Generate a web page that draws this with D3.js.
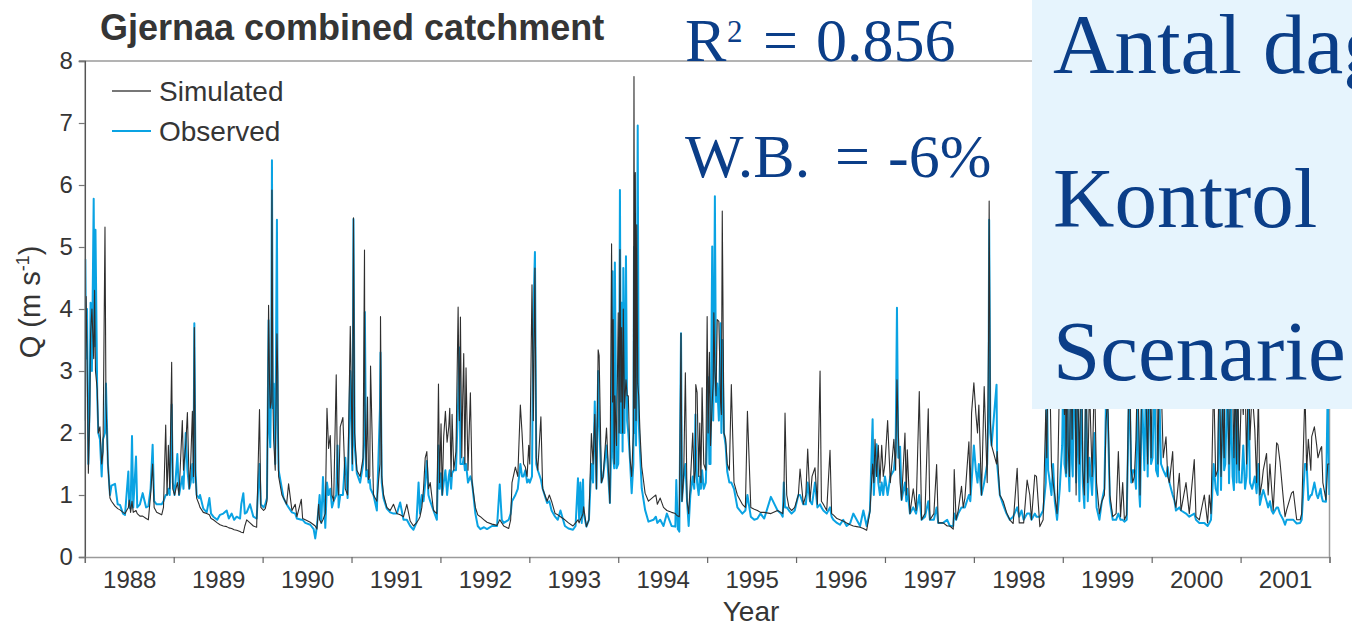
<!DOCTYPE html>
<html>
<head>
<meta charset="utf-8">
<script src="https://cdn.jsdelivr.net/npm/d3@7"></script>
<style>
  html, body { margin: 0; padding: 0; background: #ffffff; }
  svg { display: block; }
</style>
</head>
<body>
<svg id="chart" width="1352" height="628"></svg>
<script>
// Daily discharge, Gjernaa combined catchment, 1988-2001.
// Each year: position within the year (fraction), observed Q, simulated Q.
const t1988 = [0.000,0.006,0.015,0.025,0.040,0.055,0.065,0.080,0.100,0.110,0.120,0.140,0.152,0.170,0.190,0.205,0.227,0.238,0.260,0.283,0.300,0.340,0.370,0.396,0.430,0.452,0.490,0.500,0.515,0.531,0.545,0.576,0.590,0.620,0.651,0.690,0.715,0.740,0.763,0.780,0.808,0.865,0.885,0.910,0.925,0.940,0.955,0.977,0.990];
const obs1988 = [1.9,4.8,3.2,4.0,1.5,2.5,4.1,3.0,5.78,3.4,5.28,2.6,2.0,1.9,1.3,1.9,2.0,2.8,1.5,1.0,1.15,1.18,0.85,0.84,0.7,0.68,1.38,0.8,0.78,1.95,0.8,1.62,0.8,0.85,1.03,0.8,0.82,1.1,1.81,0.9,0.85,0.85,0.9,1.0,1.0,1.1,1.0,2.46,1.2];
const sim1988 = [2.2,3.0,4.2,3.3,1.35,2.3,3.6,4.0,3.2,4.3,3.0,2.7,2.0,2.1,1.5,1.7,5.32,2.5,1.5,0.95,0.9,0.82,0.78,0.76,0.72,0.7,0.8,0.92,0.72,0.9,0.72,0.75,0.7,0.66,0.66,0.62,0.6,1.0,1.5,0.8,0.72,0.68,0.8,2.13,1.0,1.8,1.1,3.14,1.1];

const t1989 = [0.010,0.041,0.060,0.097,0.110,0.135,0.154,0.175,0.191,0.210,0.222,0.232,0.245,0.258,0.285,0.296,0.333,0.371,0.401,0.420,0.446,0.490,0.521,0.558,0.596,0.620,0.652,0.680,0.708,0.746,0.760,0.783,0.800,0.821,0.858,0.896,0.933,0.965,0.980];
const obs1989 = [1.0,1.66,1.0,1.3,1.1,2.0,1.4,1.1,1.2,1.5,1.2,3.77,1.4,1.0,0.95,1.0,0.78,0.72,0.95,0.7,0.65,0.6,0.68,0.7,0.75,0.62,0.7,0.6,0.65,0.62,0.85,1.03,0.7,0.72,0.85,0.65,0.62,1.5,0.85];
const sim1989 = [1.0,1.2,1.0,2.2,1.4,1.8,2.33,1.1,1.5,2.35,1.3,3.7,1.3,0.95,0.85,0.8,0.72,0.7,0.68,0.62,0.6,0.55,0.52,0.5,0.49,0.47,0.46,0.44,0.43,0.41,0.4,0.39,0.5,0.6,0.55,0.5,0.48,2.38,0.8];

const t1990 = [0.011,0.030,0.049,0.067,0.078,0.086,0.097,0.105,0.115,0.124,0.142,0.161,0.170,0.180,0.217,0.236,0.270,0.292,0.330,0.367,0.386,0.435,0.450,0.480,0.536,0.574,0.592,0.611,0.630,0.641,0.660,0.679,0.705,0.724,0.742,0.761,0.780,0.799,0.828,0.843,0.855,0.873,0.903,0.930,0.956,0.986];
const obs1990 = [0.8,0.85,0.95,3.82,2.0,1.77,2.9,6.4,2.4,2.8,1.5,5.44,2.2,1.4,1.1,0.95,0.85,0.8,0.72,0.7,0.62,0.6,0.6,0.55,0.52,0.45,0.3,0.5,0.8,1.0,0.55,1.29,0.47,1.2,1.0,1.1,0.8,0.9,1.0,1.8,0.8,1.0,1.0,1.6,0.95,3.0];
const sim1990 = [0.75,0.78,0.9,4.06,2.8,2.4,2.5,5.92,2.6,1.9,1.4,3.6,2.98,1.3,1.0,0.95,0.85,1.18,0.75,0.85,0.65,0.93,0.62,0.6,0.56,0.52,0.5,0.45,0.85,0.6,0.55,0.6,0.7,2.4,1.75,1.96,1.0,0.9,2.94,1.2,1.0,2.1,2.25,1.1,1.0,3.72];

const t1991 = [0.010,0.022,0.035,0.060,0.097,0.130,0.146,0.150,0.165,0.180,0.191,0.205,0.214,0.247,0.285,0.320,0.326,0.340,0.360,0.397,0.435,0.472,0.510,0.547,0.585,0.622,0.660,0.697,0.730,0.754,0.770,0.791,0.810,0.829,0.847,0.865,0.885,0.922,0.960,0.978,0.990];
const obs1991 = [1.4,5.45,1.8,1.35,1.2,1.5,2.0,3.95,1.3,1.4,1.2,1.25,1.1,1.0,0.75,2.4,3.3,1.2,0.95,0.78,0.72,0.7,0.7,0.88,0.6,0.6,0.5,0.44,0.55,1.2,0.7,1.0,0.9,1.2,1.55,1.0,0.9,0.75,0.6,1.8,1.1];
const sim1991 = [1.5,5.47,2.0,1.4,1.3,1.6,4.95,2.5,1.4,2.58,1.25,1.3,3.08,1.0,0.9,1.5,3.88,1.3,1.0,0.8,0.75,0.85,0.7,0.68,0.65,0.85,0.58,0.5,0.55,0.6,0.65,0.8,1.1,1.6,1.7,1.1,1.2,0.75,0.7,2.79,1.2];

const t1992 = [0.007,0.020,0.037,0.056,0.075,0.094,0.105,0.120,0.131,0.150,0.175,0.199,0.213,0.225,0.240,0.251,0.262,0.275,0.288,0.310,0.337,0.356,0.393,0.420,0.449,0.490,0.524,0.580,0.637,0.667,0.690,0.712,0.768,0.790,0.805,0.843,0.870,0.899,0.918,0.935,0.955,0.975,0.993];
const obs1992 = [1.35,1.0,1.2,1.4,1.0,1.3,1.4,1.1,1.35,1.4,1.4,2.5,3.38,1.5,1.5,1.5,1.6,1.4,1.5,1.2,1.3,1.2,0.7,0.5,0.45,0.48,0.45,0.5,0.5,1.17,0.6,0.55,0.6,0.7,0.9,1.0,1.1,1.5,1.3,1.3,1.4,1.2,1.25];
const sim1992 = [2.15,1.0,1.95,2.35,1.85,2.1,2.4,1.3,2.3,1.4,1.7,4.03,2.2,3.87,1.6,2.6,3.28,1.5,3.05,1.4,2.65,1.2,0.8,0.68,0.65,0.6,0.56,0.53,0.51,0.6,0.55,0.5,0.46,0.6,1.2,1.45,1.3,2.45,2.0,1.5,1.45,1.3,1.8];

const t1993 = [0.005,0.030,0.045,0.063,0.078,0.095,0.130,0.150,0.200,0.225,0.250,0.290,0.320,0.350,0.400,0.440,0.491,0.520,0.547,0.560,0.574,0.590,0.604,0.611,0.642,0.670,0.698,0.717,0.736,0.755,0.774,0.785,0.811,0.830,0.868,0.906,0.925,0.936,0.943,0.955,0.962,0.981];
const obs1993 = [1.2,1.3,3.9,4.92,1.5,1.4,1.25,1.1,0.87,0.9,0.75,0.65,0.6,0.75,0.5,0.46,0.44,0.5,1.27,0.6,1.2,0.55,1.25,0.7,0.49,0.6,1.5,1.2,2.51,1.1,3.0,2.2,1.2,1.3,1.8,0.87,2.0,4.61,1.6,1.43,4.75,1.43];
const sim1993 = [1.5,4.39,2.2,4.66,1.6,1.4,2.26,1.1,0.9,1.0,0.9,0.7,0.68,0.65,0.6,0.55,0.5,0.55,0.6,0.55,0.6,0.65,0.7,0.81,0.49,0.6,1.99,1.5,2.3,1.1,3.34,3.25,1.2,1.3,2.08,0.87,5.05,2.5,3.83,1.5,2.6,1.8];

const t1994 = [0.000,0.010,0.019,0.030,0.038,0.049,0.057,0.070,0.087,0.100,0.113,0.132,0.151,0.170,0.177,0.185,0.192,0.200,0.208,0.219,0.230,0.245,0.264,0.302,0.340,0.396,0.423,0.440,0.472,0.509,0.547,0.600,0.642,0.653,0.670,0.687,0.706,0.717,0.736,0.755,0.774,0.792,0.811,0.838,0.855,0.868,0.872,0.887,0.905,0.917,0.930,0.943,0.962,0.985];
const obs1994 = [1.5,2.5,5.92,2.0,4.1,1.7,4.66,2.0,4.85,2.2,2.0,1.57,1.03,1.5,5.0,2.0,2.5,1.8,3.0,6.96,2.2,1.7,1.11,0.76,0.57,0.6,0.65,0.55,0.6,0.5,0.7,0.5,0.49,1.24,0.45,0.41,3.61,0.9,1.3,1.5,0.9,0.5,1.0,1.3,1.1,2.3,1.8,1.2,1.0,1.3,1.1,1.4,1.1,1.2];
const sim1994 = [3.94,2.0,4.96,2.5,3.7,2.0,4.0,2.4,2.86,2.6,2.6,1.6,1.3,2.0,7.75,2.4,6.2,2.2,5.36,2.8,2.6,2.0,1.46,1.03,0.9,0.97,1.0,0.85,0.95,0.8,0.75,0.72,0.7,0.68,0.66,0.65,3.61,0.9,1.3,2.97,0.9,0.7,1.2,2.0,1.2,1.4,2.78,2.65,1.3,2.16,1.2,2.73,1.5,1.4];

const t1995 = [0.000,0.011,0.025,0.038,0.057,0.068,0.075,0.087,0.100,0.113,0.132,0.151,0.160,0.170,0.189,0.208,0.226,0.250,0.272,0.302,0.340,0.396,0.430,0.453,0.491,0.530,0.566,0.600,0.642,0.717,0.792,0.830,0.850,0.862,0.876,0.895,0.920,0.950,0.985];
const obs1995 = [2.0,2.9,1.5,1.5,5.01,2.2,3.0,5.82,2.5,2.8,2.2,3.77,2.0,3.5,2.0,1.8,1.38,1.2,1.2,1.1,0.8,0.7,0.75,1.0,0.65,0.6,0.62,0.7,0.62,0.97,0.75,0.7,0.65,1.2,0.8,0.8,0.75,0.7,0.75];
const sim1995 = [3.88,2.0,3.3,1.8,2.5,2.8,3.94,3.0,2.6,3.83,3.8,2.5,2.3,5.58,2.0,1.9,1.5,1.4,2.78,1.2,1.0,0.85,0.8,2.35,0.8,0.77,0.75,0.72,0.72,0.7,0.75,0.72,0.7,0.9,2.32,1.0,0.8,0.75,0.8];

const t1996 = [0.026,0.045,0.082,0.110,0.131,0.157,0.180,0.213,0.240,0.270,0.285,0.307,0.345,0.382,0.400,0.419,0.460,0.494,0.530,0.569,0.610,0.644,0.682,0.720,0.757,0.794,0.831,0.861,0.875,0.888,0.906,0.925,0.944,0.963,0.981];
const obs1996 = [1.0,1.0,0.85,0.85,1.2,0.9,0.85,1.2,0.8,0.85,0.8,0.75,0.7,0.8,0.65,0.6,0.55,0.52,0.6,0.5,0.55,0.7,0.6,0.5,0.75,0.5,0.75,2.22,1.0,1.4,1.82,1.2,1.0,1.2,1.0];
const sim1996 = [1.0,1.42,0.85,1.0,1.74,0.9,1.3,1.44,0.85,3.0,0.9,0.85,0.75,1.72,0.7,0.68,0.62,0.6,0.58,0.55,0.52,0.5,0.49,0.48,0.46,0.43,0.73,1.5,1.2,1.9,1.3,1.8,1.2,1.8,1.3];

const t1997 = [0.000,0.030,0.060,0.100,0.120,0.135,0.150,0.170,0.187,0.225,0.240,0.251,0.281,0.318,0.350,0.386,0.412,0.450,0.487,0.506,0.550,0.581,0.599,0.655,0.700,0.730,0.768,0.779,0.800,0.824,0.861,0.880,0.899,0.944,0.960,0.974];
const obs1997 = [1.3,1.0,1.3,1.4,1.7,4.02,1.6,1.78,0.92,1.2,0.9,1.1,0.7,0.8,0.7,1.0,0.6,0.65,0.9,0.6,0.6,0.8,0.55,0.55,0.6,0.5,0.5,0.7,0.6,0.7,0.8,0.8,0.8,1.0,0.9,1.2];
const sim1997 = [1.5,2.2,1.2,1.9,1.4,2.86,2.0,1.2,0.92,2.0,1.0,1.73,0.7,1.1,0.75,2.67,0.6,0.7,2.39,0.6,0.7,1.49,0.55,0.55,0.5,0.5,0.45,1.41,0.6,0.75,1.14,0.8,0.95,1.86,1.0,2.32];

const t1998 = [0.000,0.022,0.041,0.056,0.086,0.116,0.150,0.165,0.172,0.185,0.199,0.255,0.262,0.292,0.330,0.367,0.404,0.442,0.487,0.510,0.536,0.560,0.599,0.629,0.648,0.685,0.704,0.742,0.779,0.809,0.820,0.835,0.846,0.873,0.891,0.910,0.936,0.966,0.993];
const obs1998 = [1.8,1.4,1.2,1.5,1.0,1.2,1.5,2.5,5.44,2.0,1.8,2.78,1.5,1.0,0.84,0.7,0.6,0.65,0.8,0.65,0.75,0.6,0.7,0.7,0.6,0.7,0.65,0.65,0.75,1.2,2.9,1.4,1.3,1.0,1.5,0.9,0.6,1.1,1.8];
const sim1998 = [2.81,2.32,2.0,2.45,1.0,2.75,1.2,3.5,5.74,2.2,1.8,1.5,1.7,1.0,0.9,0.72,0.6,0.54,1.43,0.55,0.55,0.55,1.24,1.0,0.6,1.32,1.3,0.49,0.6,2.37,1.6,3.2,3.6,1.46,1.2,1.0,0.7,3.1,2.8];

const t1999 = [0.010,0.019,0.030,0.037,0.050,0.060,0.075,0.090,0.105,0.112,0.130,0.150,0.165,0.187,0.210,0.225,0.243,0.260,0.281,0.300,0.330,0.356,0.380,0.412,0.440,0.468,0.487,0.506,0.530,0.562,0.600,0.625,0.650,0.674,0.693,0.719,0.749,0.770,0.787,0.805,0.824,0.840,0.861,0.869,0.890,0.918,0.936,0.955,0.974,0.993];
const obs1999 = [3.4,1.5,1.4,1.3,3.3,1.6,1.06,2.8,1.5,1.3,3.8,1.2,2.6,0.9,3.0,1.2,0.79,2.7,0.9,1.6,1.0,2.0,0.8,0.6,0.9,1.1,2.6,2.29,0.9,0.6,0.6,0.7,0.6,0.6,0.57,0.6,3.0,1.2,1.4,1.4,1.1,2.8,1.0,0.81,2.7,1.4,2.9,1.3,3.2,1.5];
const sim1999 = [2.6,2.3,3.0,1.35,3.8,1.8,1.3,3.5,1.9,2.9,4.2,1.0,3.1,1.5,3.6,1.4,1.0,3.2,1.2,2.8,1.3,3.0,1.2,0.7,0.9,1.0,2.19,2.6,1.0,0.65,0.7,1.7,0.65,1.2,0.6,0.68,3.4,1.4,1.2,1.3,1.9,3.2,1.78,1.0,3.0,3.5,2.6,1.5,3.8,1.6];

const t2000 = [0.010,0.030,0.049,0.070,0.085,0.105,0.130,0.161,0.180,0.199,0.236,0.255,0.273,0.311,0.330,0.386,0.423,0.479,0.498,0.536,0.592,0.629,0.648,0.667,0.697,0.720,0.742,0.760,0.780,0.798,0.815,0.828,0.854,0.870,0.891,0.910,0.925,0.940,0.955,0.966,0.985];
const obs2000 = [1.6,3.0,1.4,1.3,2.7,1.5,1.4,1.3,1.45,1.2,1.0,0.92,0.75,0.8,0.75,0.7,0.65,0.7,0.6,0.55,0.55,0.5,0.55,0.6,1.5,1.1,1.0,2.6,1.08,2.8,1.4,1.5,3.0,1.19,2.6,1.3,1.08,3.1,1.2,2.4,1.2];
const sim2000 = [3.2,2.6,3.6,1.5,3.0,2.9,1.6,1.94,1.3,1.2,1.7,0.92,0.8,1.35,0.75,1.2,0.7,1.57,0.65,0.6,1.0,0.55,1.0,0.7,2.9,1.3,1.4,3.3,1.3,2.5,1.6,3.6,2.6,1.5,3.4,2.8,1.6,2.9,1.5,3.0,1.4];

const t2001 = [0.011,0.030,0.050,0.067,0.090,0.105,0.130,0.160,0.180,0.200,0.217,0.240,0.255,0.292,0.310,0.330,0.349,0.367,0.405,0.420,0.443,0.480,0.500,0.518,0.573,0.593,0.631,0.670,0.687,0.724,0.743,0.762,0.790,0.800,0.830,0.856,0.870,0.900,0.912,0.925,0.960,0.980,0.999];
const obs2001 = [1.2,1.8,1.1,1.3,2.6,1.2,1.1,1.3,1.03,1.5,0.84,1.0,1.08,0.9,0.8,0.9,0.75,0.7,0.8,0.8,0.7,0.6,0.52,0.6,0.6,0.6,0.54,0.55,0.6,1.5,1.5,0.92,1.0,1.0,1.2,1.0,0.95,1.1,0.97,0.9,0.89,2.7,1.0];
const sim2001 = [2.8,2.3,3.0,1.5,3.2,1.89,2.7,2.05,1.2,2.6,1.0,1.2,1.4,1.67,1.0,1.5,1.1,0.75,1.84,1.81,1.54,0.95,0.65,0.76,1.03,1.06,0.6,0.6,0.7,2.7,1.4,1.9,1.4,1.94,2.1,1.8,1.6,1.75,1.78,1.2,0.92,1.5,1.5];

// Axis ticks and labels
const yearLabels = ["1988","1989","1990","1991","1992","1993","1994","1995","1996","1997","1998","1999","2000","2001"];
const yearEdges = [1988,1989,1990,1991,1992,1993,1994,1995,1996,1997,1998,1999,2000,2001,2002];
const qTicks = [0,1,2,3,4,5,6,7,8];

// Fit statistics and side-panel headings
const r2Parts = ["R", "2", "=", "0.856"];
const wbParts = ["W.B.", "=", "-6%"];
const panelLines = ["Antal dag", "Kontrol", "Scenarie"];

const yearBlocks = [
  [1988, t1988, obs1988, sim1988], [1989, t1989, obs1989, sim1989],
  [1990, t1990, obs1990, sim1990], [1991, t1991, obs1991, sim1991],
  [1992, t1992, obs1992, sim1992], [1993, t1993, obs1993, sim1993],
  [1994, t1994, obs1994, sim1994], [1995, t1995, obs1995, sim1995],
  [1996, t1996, obs1996, sim1996], [1997, t1997, obs1997, sim1997],
  [1998, t1998, obs1998, sim1998], [1999, t1999, obs1999, sim1999],
  [2000, t2000, obs2000, sim2000], [2001, t2001, obs2001, sim2001]
];

const observedSeries = [];
const simulatedSeries = [];
yearBlocks.forEach(([yr, ts, obs, sim]) => {
  if (ts.length !== obs.length || ts.length !== sim.length) {
    console.warn("length mismatch in", yr, ts.length, obs.length, sim.length);
  }
  ts.forEach((f, i) => {
    observedSeries.push({ t: yr + f, q: obs[i] });
    simulatedSeries.push({ t: yr + f, q: sim[i] });
  });
});

const W = 1352, H = 628;
const plot = { left: 84.8, right: 1329.5, top: 61, bottom: 557 };
const sans = "'Liberation Sans', Arial, Helvetica, sans-serif";
const serif = "'Liberation Serif', 'Times New Roman', serif";
const textGrey = "#353535";
const frameGrey = "#9a9a9a";
const obsBlue = "#0aa3e3";
const simDark = "#2e2e2e";
const noteBlue = "#0b3e88";

const svg = d3.select("#chart");

const x = d3.scaleLinear().domain([1988, 2002]).range([plot.left, plot.right]);
const y = d3.scaleLinear().domain([0, 8]).range([plot.bottom, plot.top]);

// Plot frame: top and right edges
svg.append("line")
  .attr("x1", plot.left - 6).attr("x2", plot.right)
  .attr("y1", plot.top).attr("y2", plot.top)
  .attr("stroke", frameGrey).attr("stroke-width", 1.5);
svg.append("line")
  .attr("x1", plot.right).attr("x2", plot.right)
  .attr("y1", plot.top).attr("y2", plot.bottom)
  .attr("stroke", frameGrey).attr("stroke-width", 1.5);

// Clip for the hydrographs
svg.append("clipPath").attr("id", "plotClip")
  .append("rect")
  .attr("x", plot.left).attr("y", plot.top)
  .attr("width", plot.right - plot.left).attr("height", plot.bottom - plot.top);

const line = d3.line().x(d => x(d.t)).y(d => y(d.q));

const series = svg.append("g").attr("clip-path", "url(#plotClip)");
series.append("path")
  .datum(observedSeries)
  .attr("d", line)
  .attr("fill", "none")
  .attr("stroke", obsBlue)
  .attr("stroke-width", 2)
  .attr("stroke-linejoin", "round");
series.append("path")
  .datum(simulatedSeries)
  .attr("d", line)
  .attr("fill", "none")
  .attr("stroke", simDark)
  .attr("stroke-width", 1.1)
  .attr("stroke-linejoin", "round");

// Y axis
const yAxis = svg.append("g")
  .attr("transform", `translate(${plot.left},0)`)
  .call(d3.axisLeft(y).tickValues(qTicks).tickSize(6).tickPadding(6).tickFormat(d3.format("d")));
yAxis.select(".domain").attr("stroke", "#555").attr("stroke-width", 1.5);
yAxis.selectAll(".tick line").attr("stroke", "#777").attr("stroke-width", 1.2);
yAxis.selectAll(".tick text")
  .attr("fill", textGrey).style("font-family", sans).style("font-size", "24px");

// X axis: year boundaries
const xAxis = svg.append("g")
  .attr("transform", `translate(0,${plot.bottom})`)
  .call(d3.axisBottom(x).tickValues(yearEdges).tickSize(6).tickFormat(""));
xAxis.select(".domain").attr("stroke", frameGrey).attr("stroke-width", 1.5);
xAxis.selectAll(".tick line").attr("stroke", "#666").attr("stroke-width", 1.2);

// X axis: year labels centred within each year
const xLabels = svg.append("g")
  .attr("transform", `translate(0,${plot.bottom})`)
  .call(d3.axisBottom(x)
    .tickValues(yearLabels.map(s => +s + 0.5))
    .tickSize(0).tickPadding(14)
    .tickFormat((d, i) => yearLabels[i]));
xLabels.select(".domain").remove();
xLabels.selectAll(".tick text")
  .attr("fill", textGrey).style("font-family", sans).style("font-size", "24px");

// Axis titles
svg.append("text")
  .attr("x", 751).attr("y", 621)
  .attr("text-anchor", "middle")
  .attr("fill", textGrey)
  .style("font-family", sans).style("font-size", "28px")
  .text("Year");

const yTitle = svg.append("text")
  .attr("transform", "translate(40,302) rotate(-90)")
  .attr("text-anchor", "middle")
  .attr("fill", textGrey)
  .style("font-family", sans).style("font-size", "29px");
yTitle.append("tspan").text("Q (m s");
yTitle.append("tspan").attr("dy", -11).style("font-size", "18px").text("-1");
yTitle.append("tspan").attr("dy", 11).text(")");

// Chart title
svg.append("text")
  .attr("x", 100).attr("y", 40)
  .attr("fill", textGrey)
  .style("font-family", sans).style("font-size", "36px").style("font-weight", "bold")
  .text("Gjernaa combined catchment");

// Legend
const legendItems = [
  { label: "Simulated", color: "#4a4a4a", width: 1.5, y: 91 },
  { label: "Observed", color: obsBlue, width: 2.2, y: 131 }
];
const legend = svg.append("g");
legendItems.forEach(it => {
  legend.append("line")
    .attr("x1", 112).attr("x2", 151)
    .attr("y1", it.y).attr("y2", it.y)
    .attr("stroke", it.color).attr("stroke-width", it.width);
  legend.append("text")
    .attr("x", 159).attr("y", it.y + 10)
    .attr("fill", textGrey)
    .style("font-family", sans).style("font-size", "28px")
    .text(it.label);
});

// Fit statistics
const r2 = svg.append("text")
  .attr("y", 61)
  .attr("fill", noteBlue)
  .style("font-family", serif).style("font-size", "62px");
r2.append("tspan").attr("x", 685).text(r2Parts[0]);
r2.append("tspan").attr("x", 727).attr("dy", -19).style("font-size", "31px").text(r2Parts[1]);
r2.append("tspan").attr("x", 763).attr("dy", 19).text(r2Parts[2]);
r2.append("tspan").attr("x", 816).text(r2Parts[3]);

const wb = svg.append("text")
  .attr("y", 177)
  .attr("fill", noteBlue)
  .style("font-family", serif).style("font-size", "62px");
wb.append("tspan").attr("x", 685).text(wbParts[0]);
wb.append("tspan").attr("x", 835).text(wbParts[1]);
wb.append("tspan").attr("x", 888).text(wbParts[2]);

// Side panel
svg.append("rect")
  .attr("x", 1032).attr("y", 0)
  .attr("width", W - 1032).attr("height", 409)
  .attr("fill", "#e6f4fd");
const panelBaselines = [73, 227, 380];
panelLines.forEach((s, i) => {
  svg.append("text")
    .attr("x", 1053).attr("y", panelBaselines[i])
    .attr("fill", noteBlue)
    .style("font-family", serif).style("font-size", "85px")
    .text(s);
});
</script>
</body>
</html>
